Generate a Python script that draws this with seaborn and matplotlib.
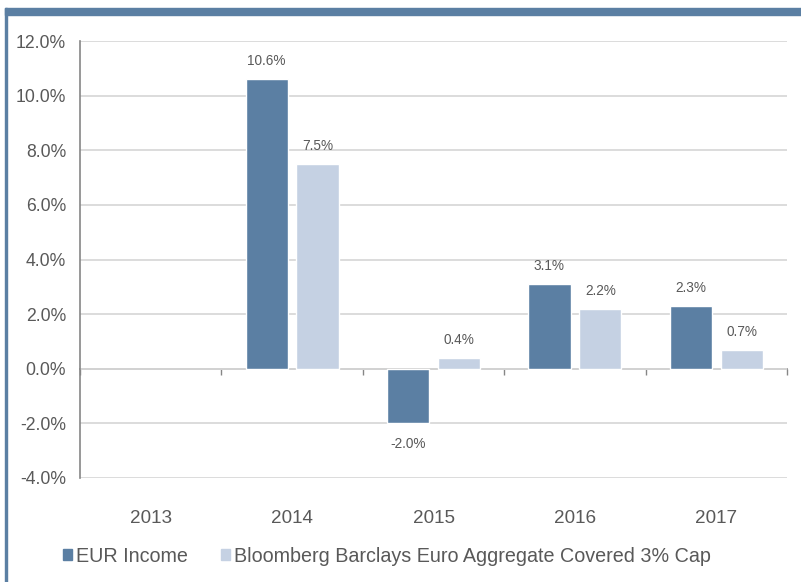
import matplotlib
matplotlib.use("Agg")
import matplotlib.pyplot as plt
import matplotlib.patches as mpatches
import numpy as np
import pandas as pd
import seaborn as sns

years = ["2013", "2014", "2015", "2016", "2017"]
eur_income = [np.nan, 10.6, -2.0, 3.1, 2.3]
benchmark = [np.nan, 7.5, 0.4, 2.2, 0.7]
series_names = ["EUR Income", "Bloomberg Barclays Euro Aggregate Covered 3% Cap"]
y_ticks = [-4, -2, 0, 2, 4, 6, 8, 10, 12]

dark = "#5B7FA3"
light = "#C5D1E3"
gray_text = "#595959"

df = pd.DataFrame({
    "year": years * 2,
    "value": eur_income + benchmark,
    "series": [series_names[0]] * len(years) + [series_names[1]] * len(years),
})

sns.set_style("white")
plt.rcParams["font.family"] = ["Liberation Sans", "DejaVu Sans"]

fig = plt.figure(figsize=(8.01, 5.82), dpi=100)
ax = fig.add_axes([80 / 801, 104 / 582, 707 / 801, 437 / 582])

sns.barplot(data=df, x="year", y="value", hue="series", order=years,
            hue_order=series_names, palette=[dark, light], width=0.72,
            gap=0.17, ax=ax, legend=False, saturation=1)

ax.set_xlim(-0.5, 4.5)
ax.set_ylim(-4, 12)
ax.set_yticks(y_ticks)
ax.set_yticklabels([f"{t:.1f}%" for t in y_ticks])
ax.grid(axis="y", color="#D9D9D9", linewidth=1.3)
ax.set_axisbelow(True)
ax.set_xlabel("")
ax.set_ylabel("")

for s in ["top", "right", "bottom"]:
    ax.spines[s].set_visible(False)
ax.spines["left"].set_color("#868686")
ax.spines["left"].set_linewidth(1.2)

ax.tick_params(axis="y", which="major", length=4, width=1, color="#868686",
               direction="out", labelsize=12.7, labelcolor=gray_text, pad=6)
ax.tick_params(axis="x", which="major", length=0, labelsize=13.6,
               labelcolor=gray_text, pad=23)

sec = ax.secondary_xaxis(0.25)
sec.set_xticks(np.arange(-0.5, 5.0, 1.0))
sec.set_xticklabels([])
sec.spines["bottom"].set_color("#868686")
sec.spines["bottom"].set_linewidth(1.2)
sec.tick_params(axis="x", length=4, width=1, color="#868686", direction="out")

# value labels
for container in ax.containers:
    for bar in container:
        h = bar.get_height()
        if np.isnan(h):
            continue
        x = bar.get_x() + bar.get_width() / 2
        if h >= 0:
            ax.annotate(f"{h:.1f}%", (x, h), xytext=(0, 13), textcoords="offset points",
                        ha="center", va="center", fontsize=9.8, color=gray_text)
        else:
            ax.annotate(f"{h:.1f}%", (x, h), xytext=(0, -15), textcoords="offset points",
                        ha="center", va="center", fontsize=9.8, color=gray_text)

# legend
handles = [mpatches.Patch(color=dark, label=series_names[0]),
           mpatches.Patch(color=light, label=series_names[1])]
fig.legend(handles=handles, loc="center left", bbox_to_anchor=(55 / 801, 1 - 556 / 582),
           ncol=2, frameon=False, fontsize=14.2, handlelength=0.45, handleheight=0.45,
           handletextpad=0.2, columnspacing=1.7, labelcolor=gray_text, borderaxespad=0)

# decorative frame: top band and left line
fig.patches.append(mpatches.Rectangle((5 / 801, 1 - 15 / 582), 796 / 801, 7 / 582,
                                      transform=fig.transFigure, color=dark, zorder=0))
fig.patches.append(mpatches.Rectangle((5 / 801, 0), 2 / 801, 1 - 8 / 582,
                                      transform=fig.transFigure, color=dark, zorder=0))

fig.savefig("out.png", dpi=100)
